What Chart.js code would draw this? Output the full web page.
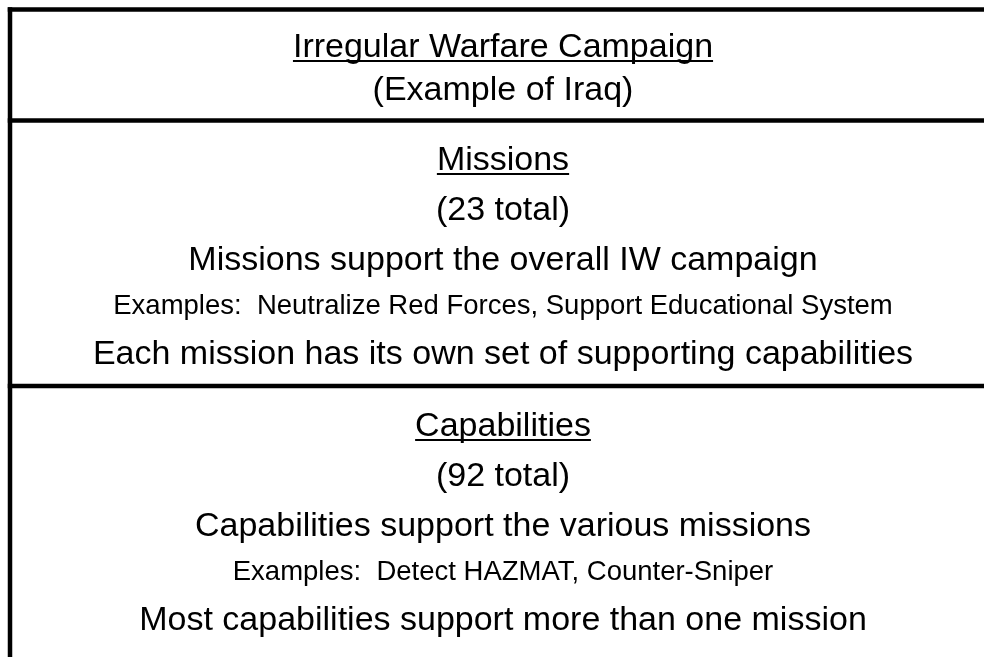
<!DOCTYPE html>
<html>
<head>
<meta charset="utf-8">
<script src="https://cdn.jsdelivr.net/npm/chart.js@4/dist/chart.umd.min.js"></script>
<style>
  html, body { margin: 0; padding: 0; background: #ffffff; }
  #wrap { width: 984px; height: 657px; position: relative; }
</style>
</head>
<body>
<div id="wrap"><canvas id="c" width="984" height="657"></canvas></div>
<script>
// ---- content (text rows of each block) ----
const blockTitles = ["Irregular Warfare Campaign", "Missions", "Capabilities"];
const blockSubtitles = ["(Example of Iraq)", "(23 total)", "(92 total)"];
const blockDescriptions = ["", "Missions support the overall IW campaign", "Capabilities support the various missions"];
const blockExamples = ["", "Examples:  Neutralize Red Forces, Support Educational System", "Examples:  Detect HAZMAT, Counter-Sniper"];
const blockNotes = ["", "Each mission has its own set of supporting capabilities", "Most capabilities support more than one mission"];

// ---- layout (in scale units = pixels of the 984x657 frame) ----
const W = 984, H = 657;
const boxLeft = 10, boxRight = 996, boxTop = 9.5, boxBottom = 700;
const sepY = [120.5, 386];
const rowY = [
  [57, 100],
  [170, 220, 270, 314, 364],
  [436, 486, 536, 580, 630]
];
const centerX = 503;

const borderLines = [
  [{x: boxLeft, y: boxTop}, {x: boxRight, y: boxTop}],
  [{x: boxLeft, y: boxTop}, {x: boxLeft, y: boxBottom}],
  [{x: boxLeft, y: sepY[0]}, {x: boxRight, y: sepY[0]}],
  [{x: boxLeft, y: sepY[1]}, {x: boxRight, y: sepY[1]}]
];

const FONT = '"Liberation Sans", Arial, Helvetica, sans-serif';
const BIG = 34, SMALL = 27.5;

const textPlugin = {
  id: 'textRows',
  afterDatasetsDraw(chart) {
    const ctx = chart.ctx;
    const xs = chart.scales.x, ys = chart.scales.y;
    ctx.save();
    ctx.fillStyle = '#000';
    ctx.textAlign = 'center';
    ctx.textBaseline = 'alphabetic';
    const cx = xs.getPixelForValue(centerX);
    blockTitles.forEach((t, i) => {
      const rows = rowY[i];
      const items = [
        {text: t, size: BIG, underline: true},
        {text: blockSubtitles[i], size: BIG},
        {text: blockDescriptions[i], size: BIG},
        {text: blockExamples[i], size: SMALL},
        {text: blockNotes[i], size: BIG}
      ];
      items.forEach((it, k) => {
        if (!it.text || rows[k] === undefined) return;
        const y = ys.getPixelForValue(rows[k]);
        ctx.font = it.size + 'px ' + FONT;
        ctx.fillText(it.text, cx, y);
        if (it.underline) {
          const w = ctx.measureText(it.text).width;
          ctx.fillRect(cx - w / 2, y + 3, w, 2);
        }
      });
    });
    ctx.restore();
  }
};

new Chart(document.getElementById('c'), {
  type: 'line',
  data: {
    datasets: borderLines.map(pts => ({
      data: pts,
      borderColor: '#000',
      borderWidth: 4.5,
      pointRadius: 0,
      borderCapStyle: 'square',
      fill: false
    }))
  },
  options: {
    responsive: false,
    animation: false,
    events: [],
    layout: { padding: 0 },
    plugins: { legend: { display: false }, tooltip: { enabled: false }, title: { display: false } },
    scales: {
      x: { type: 'linear', min: 0, max: W, display: false },
      y: { type: 'linear', min: 0, max: H, reverse: true, display: false }
    }
  },
  plugins: [textPlugin]
});
</script>
</body>
</html>
